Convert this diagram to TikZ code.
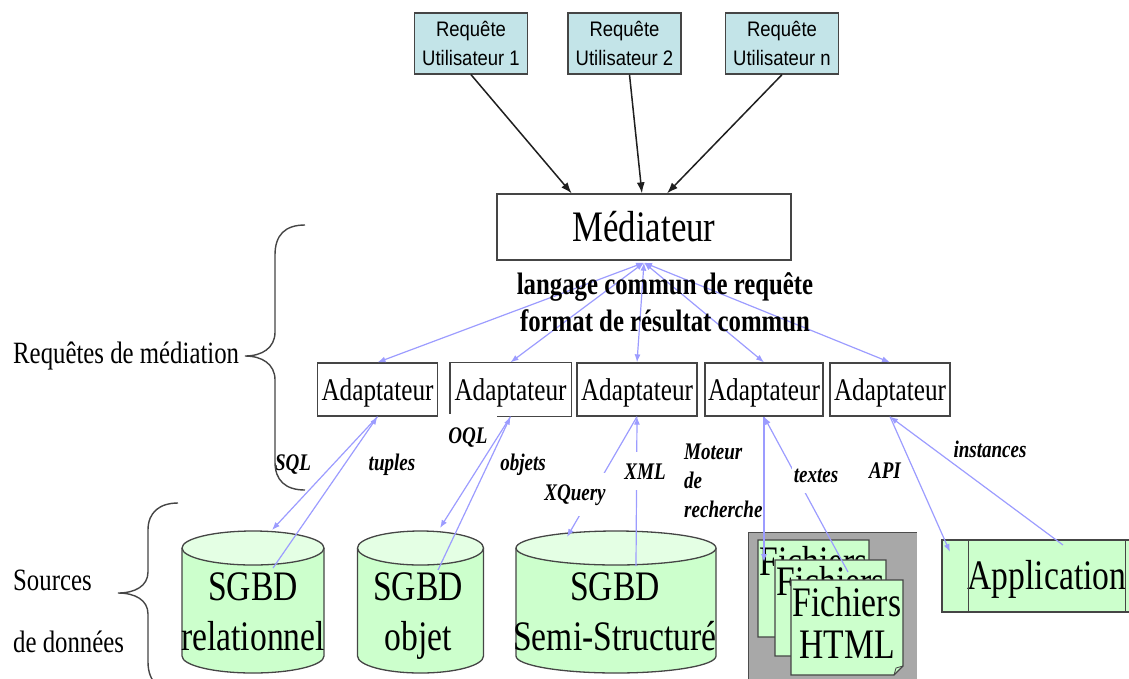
\documentclass[tikz,border=0pt]{standalone}
\usepackage{fontspec}
\setmainfont{Liberation Serif}[FakeStretch=0.8]
\newfontfamily\reqsans{Liberation Sans}[FakeStretch=0.88]
\usetikzlibrary{arrows.meta,calc}

\definecolor{reqfill}{HTML}{C3E4E8}
\definecolor{dbfill}{HTML}{CCFFCC}
\definecolor{dbtop}{HTML}{E4FFE4}
\definecolor{linkblue}{HTML}{9C9CFF}
\definecolor{edgegray}{HTML}{454545}
\definecolor{panelgray}{HTML}{A8A8A8}

\newcommand\fsz[2]{\fontsize{#1}{#2}\selectfont}

% database cylinder: centre x, x radius, top y, bottom y, end radius
\newcommand\dbcyl[5]{%
  \fill[dbfill] (#1-#2,#3) -- (#1-#2,#4)
    arc[start angle=180,end angle=360,x radius=#2pt,y radius=#5pt] -- (#1+#2,#3) -- cycle;
  \draw[dbline] (#1-#2,#3) -- (#1-#2,#4)
    arc[start angle=180,end angle=360,x radius=#2pt,y radius=#5pt] -- (#1+#2,#3);
  \filldraw[dbline,fill=dbtop] (#1,#3) ellipse [x radius=#2pt,y radius=#5pt];
}

% document sheet with a folded corner: left, top, right, bottom
\newcommand\sheet[4]{%
  \filldraw[dbline,fill=dbfill] (#1,#2) -- (#3,#2) -- (#3,#4-9) -- (#3-9,#4) -- (#1,#4) -- cycle;
  \draw[dbline,line width=0.8pt] (#3,#4-9) -- (#3-7,#4-7) -- (#3-9,#4);
}

\tikzset{
  boxline/.style={draw=edgegray, line width=1.3pt},
  reqbox/.style={boxline, fill=reqfill, minimum width=113pt, minimum height=61pt,
    inner sep=0pt, align=center, font=\reqsans\fsz{21}{29}},
  medbox/.style={boxline, minimum width=294pt, minimum height=66pt, inner sep=0pt,
    font=\fsz{43.5}{50}, text height=29pt, text depth=0pt},
  adaptbox/.style={boxline, minimum width=120pt, minimum height=53pt, inner sep=0pt,
    font=\fsz{31.5}{36}, text height=21pt, text depth=0pt},
  reqarrow/.style={draw=black!88, line width=1.5pt, -{Latex[length=11pt,width=8pt]}},
  link/.style={draw=linkblue, line width=1.2pt, -{Latex[length=8pt,width=6pt]}},
  hublink/.style={draw=linkblue, line width=1.2pt,
    {Latex[length=8pt,width=6pt]}-{Latex[length=8pt,width=6pt]}},
  tag/.style={font=\bfseries\itshape\fsz{23.8}{29}, inner sep=1pt, anchor=base},
  cut/.style={fill=white, inner xsep=2pt, inner ysep=11pt},
  dbline/.style={draw=edgegray, line width=1.3pt},
  dbtext/.style={anchor=north, align=center, inner sep=0pt, font=\fsz{42}{50}},
  sheettext/.style={anchor=north, align=center, inner sep=0pt, font=\fsz{42}{42}},
  sidetext/.style={anchor=base west, inner sep=0pt, font=\fsz{31}{36}},
  bracket/.style={draw=edgegray, line width=1.4pt},
}

\begin{document}
\begin{tikzpicture}[x=1pt,y=-1pt]
\useasboundingbox (0,0) rectangle (1129,678);

% user requests
\node[reqbox] (u1) at (471,43.5) {Requête\\Utilisateur 1};
\node[reqbox] (u2) at (624.5,43.5) {Requête\\Utilisateur 2};
\node[reqbox] (un) at (782,43.5) {Requête\\Utilisateur n};

% mediator
\node[medbox] (med) at (644,227) {Médiateur};
\coordinate (hub) at ([yshift=-2pt]med.south);

\draw[reqarrow] (u1.south) -- ($(med.north west)!0.255!(med.north east)$);
\draw[reqarrow] ([xshift=5pt]u2.south) -- ($(med.north west)!0.493!(med.north east)$);
\draw[reqarrow] (un.south) -- ($(med.north west)!0.578!(med.north east)$);

% wrappers
\node[adaptbox] (a1) at (377.5,389.5) {Adaptateur};
\node[adaptbox, draw=none] (a2) at (510.5,389.5) {Adaptateur};
\draw[boxline] ([yshift=3pt]a2.south west) -- (a2.north west) -- (a2.north east)
  -- (a2.south east) -- ([xshift=-74pt]a2.south east);
\node[adaptbox] (a3) at (637,389.5) {Adaptateur};
\node[adaptbox, minimum width=118pt] (a4) at (764,389.5) {Adaptateur};
\node[adaptbox] (a5) at (890,389.5) {Adaptateur};

\foreach \a in {a1,a2,a3,a4,a5} \draw[hublink] (hub) -- (\a.north);

\node[font=\bfseries\fsz{31}{37}, align=center, inner sep=0pt] (common) at (665,302)
  {langage commun de requête\\format de résultat commun};

% data sources
\dbcyl{253}{71}{548}{656}{17}
\node[dbtext] (db1) at (253,572) {SGBD\\relationnel};
\dbcyl{420.5}{63}{548}{656}{17}
\node[dbtext] (db2) at (418,572) {SGBD\\objet};
\dbcyl{616}{100}{548}{656}{17}
\node[dbtext] (db3) at (615,572) {SGBD\\Semi-Structuré};

\fill[panelgray] (748,532) rectangle (917,700);
\draw[draw=gray!60!black, line width=1pt] (748,700) -- (748,532) -- (917,532);
\sheet{758}{540}{869}{637}
\node[sheettext] (f1) at (813.5,546) {Fichiers};
\sheet{775}{560}{886}{656}
\node[sheettext] (f2) at (830.5,566) {Fichiers};
\sheet{791}{580}{903}{675}
\node[sheettext] (f3) at (847,587) {Fichiers\\HTML};

\node[dbline, fill=dbfill, minimum width=210pt, minimum height=72pt, inner sep=0pt,
  font=\fsz{42}{42}, text height=27.8pt, text depth=0pt] (app) at (1047,576) {Application};
\draw[dbline] ([xshift=27pt]app.north west) -- ([xshift=27pt]app.south west);
\draw[dbline] ([xshift=-27pt]app.north east) -- ([xshift=-27pt]app.south east);

% wrapper <-> source links
\coordinate (db1top) at (272,530);  \coordinate (db1in) at (273,568);
\coordinate (db2top) at (440,528);  \coordinate (db2in) at (438,570);
\coordinate (db3top) at (567,537);  \coordinate (db3in) at (636,566);
\coordinate (fdown) at (764,562);   \coordinate (fup) at (848,572);
\coordinate (appdown) at (950,552); \coordinate (appup) at (1063,545);

\draw[link] (a1.south) -- (db1top);
\draw[link] (db1in) -- (a1.south);
\draw[link] (a2.south) -- (db2top);
\draw[link] (db2in) -- (a2.south);
\draw[link] (a3.south) -- (db3top);
\draw[link] (db3in) -- (a3.south);
\draw[link] (a4.south) -- (fdown);
\draw[link] (fup) -- (a4.south);
\draw[link] (a5.south) -- (appdown);
\draw[link] (appup) -- (a5.south);

% protocol labels
\node[tag] (sql) at (293,470) {SQL};
\node[tag] (tuples) at (392,470) {tuples};
\node[tag] (oql) at (468,443) {OQL};
\node[tag] (objets) at (523,470) {objets};
\node[tag, cut] (xquery) at (575,500) {XQuery};
\node[tag, cut] (xml) at (645,479) {XML};
\node[tag, anchor=north west, align=left, inner sep=0pt] (moteur) at (684,444)
  {Moteur\\de\\recherche};
\node[tag, cut] (textes) at (816,482) {textes};
\node[tag] (api) at (885,478) {API};
\node[tag] (inst) at (990,457) {instances};

% side annotations
\draw[bracket] (305,225) .. controls (285,225) and (275,235) .. (275,255) -- (275,332)
  .. controls (275,348) and (262,356) .. (245,356)
  .. controls (262,356) and (275,364) .. (275,380) -- (275,462)
  .. controls (275,480) and (285,490) .. (305,490);
\node[sidetext] (mediation) at (13,363) {Requêtes de médiation};

\draw[bracket] (178,503) .. controls (160,503) and (148,512) .. (148,530) -- (148,572)
  .. controls (148,586) and (135,593) .. (118,593)
  .. controls (135,593) and (148,600) .. (148,614) -- (148,662)
  .. controls (148,682) and (160,692) .. (178,692);
\node[sidetext] (sources) at (13,590) {Sources};
\node[sidetext] (donnees) at (13,652) {de données};
\end{tikzpicture}
\end{document}
